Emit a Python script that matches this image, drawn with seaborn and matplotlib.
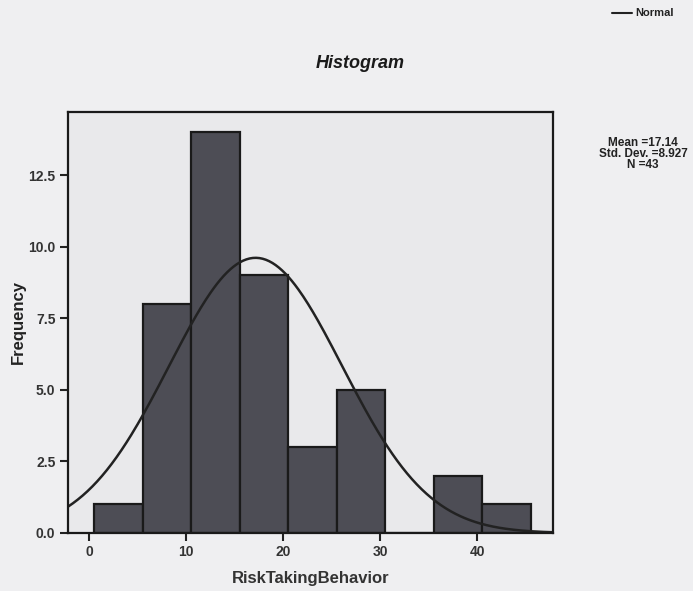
import numpy as np
import pandas as pd
import matplotlib
matplotlib.use("Agg")
import matplotlib.pyplot as plt
import seaborn as sns

# Data
bin_centers = [3, 8, 13, 18, 23, 28, 33, 38, 43]
counts = [1, 8, 14, 9, 3, 5, 0, 2, 1]
bin_edges = [0.5, 5.5, 10.5, 15.5, 20.5, 25.5, 30.5, 35.5, 40.5, 45.5]
mean_val = 17.14
sd_val = 8.927
n_val = 43
x_ticks = [0, 10, 20, 30, 40]
y_ticks = [0.0, 2.5, 5.0, 7.5, 10.0, 12.5]

sns.set_theme(style="white")
plt.rcParams['font.family'] = ['Liberation Sans', 'DejaVu Sans']

fig = plt.figure(figsize=(6.93, 5.91), dpi=100, facecolor='#efeff1')
ax = fig.add_axes([68/693, 1-533/591, (553-68)/693, (533-112)/591])
ax.set_facecolor('#e9e9eb')

df = pd.DataFrame({"RiskTakingBehavior": bin_centers, "count": counts})
sns.histplot(data=df, x="RiskTakingBehavior", weights="count", bins=bin_edges,
             color='#4d4d55', alpha=1.0, edgecolor='#1a1a1a', linewidth=1.6, ax=ax)

binwidth = bin_edges[1] - bin_edges[0]
xs = np.linspace(-2.2, 47.8, 300)
ys = n_val * binwidth / (sd_val * np.sqrt(2*np.pi)) * np.exp(-0.5*((xs-mean_val)/sd_val)**2)
sns.lineplot(x=xs, y=ys, color='#222222', linewidth=1.8, ax=ax)

ax.set_xlim(-2.2, 47.8)
ax.set_ylim(0, 14.7)
ax.set_xticks(x_ticks)
ax.set_xticklabels([str(t) for t in x_ticks], fontweight='bold', fontsize=10)
ax.set_yticks(y_ticks)
ax.set_yticklabels([f"{t:.1f}" for t in y_ticks], fontweight='bold', fontsize=10)
ax.tick_params(axis='both', direction='out', length=6, width=1.5, colors='#222222',
               left=True, bottom=True, pad=3)
for lab in ax.get_xticklabels() + ax.get_yticklabels():
    lab.set_color('#333333')
for s in ax.spines.values():
    s.set_visible(True)
    s.set_color('#1a1a1a')
    s.set_linewidth(1.6)

ax.set_xlabel("RiskTakingBehavior", fontweight='bold', fontsize=12, color='#333333', labelpad=8)
ax.set_ylabel("Frequency", fontweight='bold', fontsize=12, color='#222222', labelpad=2)

fig.text(360/693, 1-63/591, "Histogram", ha='center', va='center',
         fontsize=13, fontweight='bold', fontstyle='italic', color='#1a1a1a')

# Legend for normal curve
fig.add_artist(plt.Line2D([612/693, 632/693], [1-13/591, 1-13/591], color='#222222', linewidth=1.5))
fig.text(635/693, 1-13/591, "Normal", ha='left', va='center', fontsize=8,
         fontweight='bold', color='#222222')

fig.text(643/693, 1-154/591, f"Mean ={mean_val:.2f}\nStd. Dev. ={sd_val:.3f}\nN ={n_val}",
         ha='center', va='center', fontsize=8.5, fontweight='bold', color='#222222',
         linespacing=0.9)

fig.savefig("out.png", dpi=100, facecolor=fig.get_facecolor())
